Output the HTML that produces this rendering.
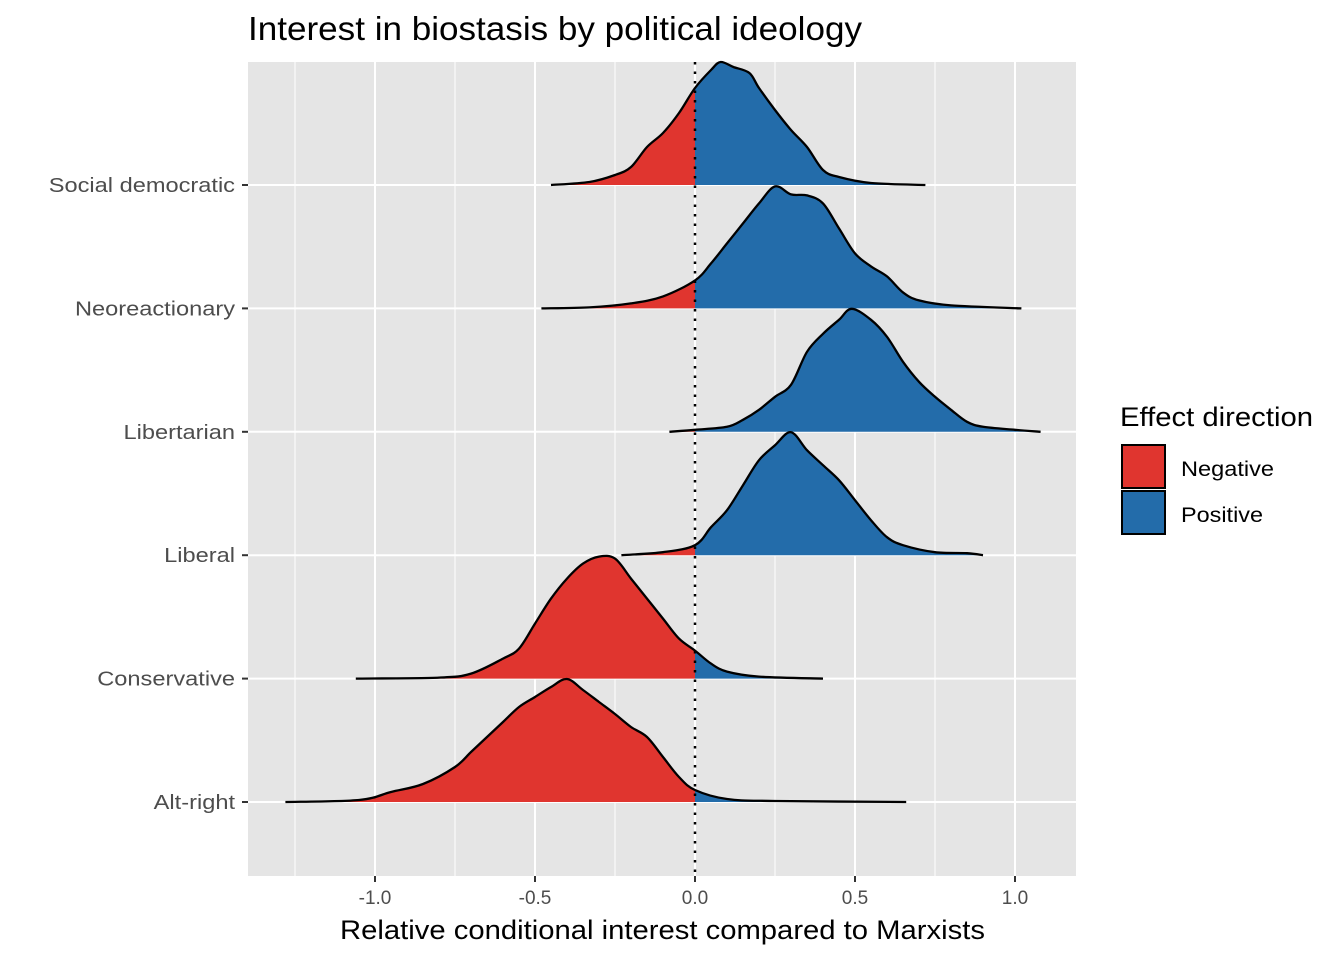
<!DOCTYPE html>
<html><head><meta charset="utf-8"><style>
body{margin:0;background:#fff;}
svg{display:block;font-family:"Liberation Sans",Arial,sans-serif;}
</style></head><body>
<svg id="chart" width="1344" height="960">
<text x="248" y="40" font-size="33" textLength="614" lengthAdjust="spacingAndGlyphs" fill="#000">Interest in biostasis by political ideology</text>
<rect x="248" y="62" width="828" height="814" fill="#e5e5e5"/>
<g id="grid"></g>
<g id="ridges"></g>
<line x1="695" y1="62" x2="695" y2="876" stroke="#000" stroke-width="2.5" stroke-dasharray="2.5,7"/>
<g id="axes"></g>
<text x="340" y="939" font-size="27" textLength="645" lengthAdjust="spacingAndGlyphs">Relative conditional interest compared to Marxists</text>
<g>
<text x="1120" y="426" font-size="27" textLength="193" lengthAdjust="spacingAndGlyphs">Effect direction</text>
<rect x="1122" y="445" width="43" height="43" fill="#e0352f" stroke="#000" stroke-width="2"/>
<text x="1181" y="476" font-size="21" textLength="93" lengthAdjust="spacingAndGlyphs">Negative</text>
<rect x="1122" y="491" width="43" height="43" fill="#236caa" stroke="#000" stroke-width="2"/>
<text x="1181" y="522" font-size="21" textLength="82" lengthAdjust="spacingAndGlyphs">Positive</text>
</g>
</svg>
<script>
const categories=["Social democratic","Neoreactionary","Libertarian","Liberal","Conservative","Alt-right"];
const xTicks=[-1.0,-0.5,0.0,0.5,1.0];
const xTickLabels=["-1.0","-0.5","0.0","0.5","1.0"];
const xsSocial=[-0.45,-0.33,-0.25,-0.2,-0.15,-0.1,-0.05,0,0.05,0.08,0.12,0.17,0.2,0.25,0.3,0.35,0.4,0.45,0.55,0.72];
const hSocial=[0,3,10,18,38,52,72,97,115,123,118,112,97,75,55,38,15,8,2,0];
const xsNeo=[-0.48,-0.33,-0.2,-0.1,0,0.05,0.1,0.15,0.2,0.25,0.3,0.35,0.4,0.45,0.5,0.55,0.6,0.65,0.7,0.8,1.02];
const hNeo=[0,1,5,12,28,45,65,85,105,122,114,113,105,80,55,42,32,16,8,3,0];
const xsLib=[-0.08,0,0.1,0.15,0.2,0.25,0.3,0.35,0.4,0.45,0.49,0.55,0.6,0.65,0.7,0.75,0.8,0.85,0.9,1.0,1.08];
const hLib=[0,2,5,12,22,35,47,80,98,112,123,112,95,70,50,35,22,10,5,2,0];
const xsLiberal=[-0.23,-0.1,0,0.05,0.1,0.15,0.2,0.25,0.3,0.35,0.4,0.45,0.5,0.55,0.6,0.65,0.75,0.85,0.9];
const hLiberal=[0,3,10,28,45,70,95,110,123,105,90,75,55,35,18,10,3,2,0];
const xsCons=[-1.06,-0.8,-0.7,-0.6,-0.55,-0.5,-0.45,-0.4,-0.35,-0.3,-0.25,-0.2,-0.15,-0.1,-0.05,0,0.05,0.1,0.2,0.4];
const hCons=[0,1,5,20,30,55,80,100,115,122,120,100,80,60,40,28,15,7,2,0];
const xsAlt=[-1.28,-1.05,-0.95,-0.85,-0.75,-0.7,-0.65,-0.6,-0.55,-0.5,-0.45,-0.4,-0.35,-0.3,-0.25,-0.2,-0.15,-0.1,-0.05,0,0.1,0.25,0.66];
const hAlt=[0,2,10,18,35,50,65,80,95,105,115,123,112,100,88,75,65,45,25,12,3,1,0];
const seriesX=[xsSocial,xsNeo,xsLib,xsLiberal,xsCons,xsAlt];
const seriesH=[hSocial,hNeo,hLib,hLiberal,hCons,hAlt];

const NS="http://www.w3.org/2000/svg";
const X=v=>695+v*320;
const Y=i=>185+i*123.4;
const H=h=>h;
function mk(tag,attrs,parent){const e=document.createElementNS(NS,tag);for(const k in attrs)e.setAttribute(k,attrs[k]);parent.appendChild(e);return e;}
const grid=document.getElementById('grid'),axes=document.getElementById('axes'),ridges=document.getElementById('ridges');
for(let i=0;i<xTicks.length-1;i++){const m=(xTicks[i]+xTicks[i+1])/2;
 const l=mk('line',{x1:X(m),x2:X(m),y1:62,y2:876,stroke:'#fff','stroke-width':1},grid);
 
 }
[-1.25,1.25].forEach(m=>{if(X(m)>248&&X(m)<1076){const l=mk('line',{x1:X(m),x2:X(m),y1:62,y2:876,stroke:'#fff','stroke-width':1},grid);
 
 }});
xTicks.forEach((t,i)=>{
 const l=mk('line',{x1:X(t),x2:X(t),y1:62,y2:876,stroke:'#fff','stroke-width':2},grid);
 
 
 const tk=mk('line',{x1:X(t),x2:X(t),y1:876,y2:882,stroke:'#333','stroke-width':2},axes);
 
 
 const tx=mk('text',{x:X(t),y:904,'font-size':19,fill:'#4d4d4d','text-anchor':'middle'},axes);
 tx.textContent=xTickLabels[i];
 
 
});
categories.forEach((c,i)=>{
 const l=mk('line',{x1:248,x2:1076,y1:Y(i),y2:Y(i),stroke:'#fff','stroke-width':2},grid);
 
 
 const tk=mk('line',{x1:242,x2:248,y1:Y(i),y2:Y(i),stroke:'#333','stroke-width':2},axes);
 
 
 const tx=mk('text',{x:235,y:Y(i)+7,'font-size':20,fill:'#4d4d4d','text-anchor':'end'},axes);
 tx.textContent=c;
 
 
 const w=tx.getComputedTextLength();
 tx.setAttribute('textLength',w*1.18);
 tx.setAttribute('lengthAdjust','spacingAndGlyphs');
});
const defs=mk('defs',{},document.getElementById('chart'));
const cn=mk('clipPath',{id:'cneg'},defs);mk('rect',{x:0,y:0,width:X(0),height:960},cn);
const cp=mk('clipPath',{id:'cpos'},defs);mk('rect',{x:X(0),y:0,width:1344,height:960},cp);
function smooth(pts){let d=`M${pts[0][0]},${pts[0][1]}`;
 for(let i=0;i<pts.length-1;i++){const p0=pts[i-1]||pts[i],p1=pts[i],p2=pts[i+1],p3=pts[i+2]||p2;
  d+=` C${p1[0]+(p2[0]-p0[0])/6},${p1[1]+(p2[1]-p0[1])/6} ${p2[0]-(p3[0]-p1[0])/6},${p2[1]-(p3[1]-p1[1])/6} ${p2[0]},${p2[1]}`;}
 return d;}
categories.forEach((c,i)=>{
 const xs=seriesX[i],hs=seriesH[i],b=Y(i);
 const pts=xs.map((x,j)=>[X(x),b-H(hs[j])]);
 const line=smooth(pts);
 const area=line+` L${pts[pts.length-1][0]},${b} L${pts[0][0]},${b} Z`;
 const g=mk('g',{},ridges);
 
 
 const an=mk('path',{d:area,fill:'#e0352f','clip-path':'url(#cneg)'},g);
 
 
 const ap=mk('path',{d:area,fill:'#236caa','clip-path':'url(#cpos)'},g);
 
 
 const ol=mk('path',{d:line,fill:'none',stroke:'#000','stroke-width':2.3},g);
 
 
});
</script>
</body></html>
